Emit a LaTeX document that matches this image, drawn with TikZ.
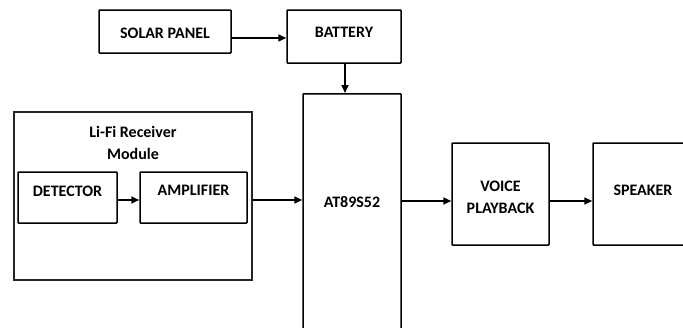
\documentclass[tikz,border=0pt]{standalone}
\usepackage{fontspec}
\setmainfont{Carlito}
\usepackage{tikz}
\usetikzlibrary {arrows.meta}

\tikzset{
  block/.style={draw,line width=1.5pt,rounded corners=0.8pt,inner sep=0pt},
  modbox/.style={draw=black!85,line width=1.2pt},
  lbl/.style={font=\fontsize{16}{22}\selectfont\bfseries,align=center},
  sig/.style={-{Triangle[length=8pt,width=7pt]},line width=1.6pt},
}

\begin{document}
\begin{tikzpicture}[x=1pt,y=-1pt]
        \clip (0,0) rectangle (683,327);%枠
        \coordinate (pwrrow) at (0,38);
        \coordinate (inrow) at (0,200);
        \coordinate (outrow) at (0,201);

        \node[block,minimum width=132pt,minimum height=43pt] (solar) at (165,31.5) {};
        \node[lbl] (solartxt) at (165,33) {SOLAR PANEL};
        \node[block,minimum width=114pt,minimum height=53pt] (battery) at (344,36.5) {};
        \node[lbl] (batterytxt) at (344,32) {BATTERY};

        \node[block,minimum width=98pt,minimum height=300pt,anchor=north] (mcu) at (352,93) {};
        \node[lbl] (mcutxt) at (352,202) {AT89S52};

        \node[modbox,minimum width=238pt,minimum height=168pt] (lifi) at (133,196) {};
        \node[lbl] (lifitxt) at (133,143) {Li-Fi Receiver\\Module};
        \node[block,minimum width=99pt,minimum height=51pt] (det) at (67.5,197.5) {};
        \node[lbl] (dettxt) at (67.5,191) {DETECTOR};
        \node[block,minimum width=107pt,minimum height=51pt] (amp) at (193.5,197.5) {};
        \node[lbl] (amptxt) at (193.5,190) {AMPLIFIER};

        \node[block,minimum width=97pt,minimum height=102pt] (voice) at (500.5,194) {};
        \node[lbl] (voicetxt) at (500.5,197) {VOICE\\PLAYBACK};
        \node[block,minimum width=100pt,minimum height=102pt] (speaker) at (643,194) {};
        \node[lbl] (speakertxt) at (643,190) {SPEAKER};

        \draw[sig](solar.east |- pwrrow)--(battery.west |- pwrrow);%電源
        \draw[sig](battery.south -| 345,0)--(mcu.north -| 345,0);
        \draw[sig](det.east |- inrow)--(amp.west |- inrow);
        \draw[sig](lifi.east |- inrow)--(mcu.west |- inrow);
        \draw[sig](mcu.east |- outrow)--(voice.west |- outrow);
        \draw[sig](voice.east |- outrow)--(speaker.west |- outrow);
      \end{tikzpicture}
\end{document}
